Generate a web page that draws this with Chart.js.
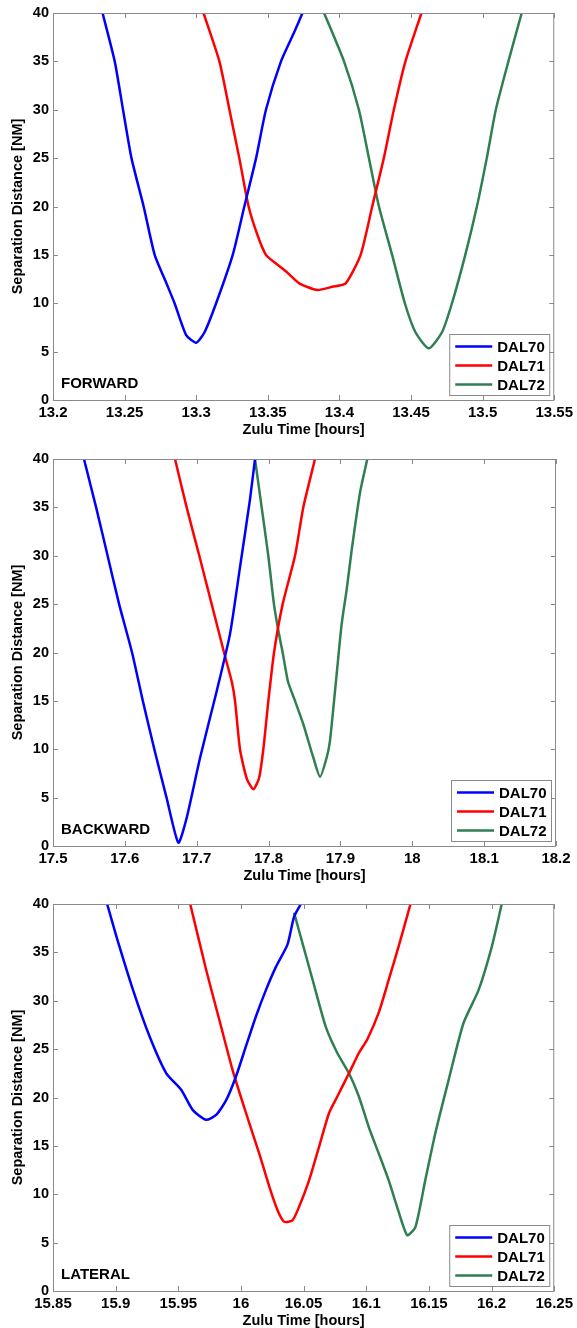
<!DOCTYPE html>
<html>
<head>
<meta charset="utf-8">
<script src="https://cdn.jsdelivr.net/npm/chart.js@4.4.1/dist/chart.umd.min.js"></script>
<style>
  html, body { margin: 0; padding: 0; background: #fff; overflow: hidden; }
  .panel { position: absolute; left: 0; width: 577px; height: 437px; }
</style>
</head>
<body>
<div class="panel" style="top:0px"><canvas id="fwd" width="577" height="437"></canvas></div>
<div class="panel" style="top:446px"><canvas id="bwd" width="577" height="437"></canvas></div>
<div class="panel" style="top:891px"><canvas id="lat" width="577" height="437"></canvas></div>
<script>
// labels
const flightNames = ['DAL70', 'DAL71', 'DAL72'];
const panelNames = ['FORWARD', 'BACKWARD', 'LATERAL'];
const yTicks = [0, 5, 10, 15, 20, 25, 30, 35, 40];

// FORWARD
const fwdXTicks = [13.2, 13.25, 13.3, 13.35, 13.4, 13.45, 13.5, 13.55];
const fwdT70 = [13.2346, 13.2431, 13.2489, 13.2548, 13.2633, 13.271, 13.2791, 13.2849, 13.293, 13.300, 13.3058, 13.3139, 13.3255, 13.3336, 13.3418, 13.3487, 13.3592, 13.3684, 13.3742];
const fwdD70 = [40, 35, 30, 25, 20, 15, 12.1, 10, 6.7, 5.92, 7, 10, 15, 20, 25, 30, 35, 38, 40];
const fwdT71 = [13.3051, 13.3162, 13.3232, 13.3301, 13.3366, 13.3429, 13.3487, 13.3557, 13.3626, 13.3719, 13.3846, 13.395, 13.4044, 13.4148, 13.4229, 13.431, 13.438, 13.4461, 13.4573];
const fwdD71 = [40, 35, 30, 25, 20, 17, 15, 14.1, 13.3, 12.06, 11.37, 11.7, 12.06, 15, 20, 25, 30, 35, 40];
const fwdT72 = [13.3893, 13.4032, 13.4136, 13.4206, 13.4276, 13.4368, 13.4457, 13.4531, 13.4624, 13.4716, 13.4786, 13.4879, 13.496, 13.5029, 13.5092, 13.518, 13.5273];
const fwdD72 = [40, 35, 30, 25, 20, 15, 10, 7, 5.34, 7, 10, 15, 20, 25, 30, 35, 40];

// BACKWARD
const bwdXTicks = [17.5, 17.6, 17.7, 17.8, 17.9, 18, 18.1, 18.2];
const bwdT70 = [17.5431, 17.560, 17.576, 17.592, 17.610, 17.625, 17.641, 17.658, 17.6744, 17.686, 17.7046, 17.7278, 17.7463, 17.7602, 17.7741, 17.7811];
const bwdD70 = [40, 35, 30, 25, 20, 15, 10, 5, 0.34, 2.9, 9.1, 16.0, 21.9, 28.8, 35.8, 40];
const bwdT71 = [17.6698, 17.686, 17.7036, 17.7208, 17.738, 17.7487, 17.7533, 17.7602, 17.7695, 17.7788, 17.7867, 17.7927, 17.7997, 17.8076, 17.8196, 17.8368, 17.8483, 17.8646];
const bwdD71 = [40, 35, 30, 25, 20, 17, 15, 10, 7, 5.87, 7, 10, 15, 20, 25, 30, 35, 40];
const bwdT72 = [17.7811, 17.7904, 17.7996, 17.8075, 17.8135, 17.8196, 17.827, 17.8368, 17.8483, 17.8622, 17.8716, 17.8809, 17.8855, 17.8948, 17.9018, 17.9087, 17.9157, 17.9272, 17.9374];
const bwdD72 = [40, 35, 30, 25, 22.3, 20, 17, 15, 12.6, 9.15, 7.15, 9.15, 10.9, 17.8, 23.0, 26.5, 30.6, 36.5, 40];

// LATERAL
const latXTicks = [15.85, 15.9, 15.95, 16, 16.05, 16.1, 16.15, 16.2, 16.25];
const latT70 = [15.8932, 15.9007, 15.9139, 15.9271, 15.9404, 15.9523, 15.9616, 15.9722, 15.9802, 15.9881, 15.9961, 16.004, 16.012, 16.0199, 16.0279, 16.0371, 16.0424, 16.0478];
const latD70 = [40, 36.6, 31.1, 26.3, 22.5, 20.8, 18.7, 17.7, 18.2, 19.7, 22.2, 25.3, 28.4, 31.1, 33.5, 35.8, 38.7, 40];
const latT71 = [15.9595, 15.9722, 15.9828, 15.9934, 16.004, 16.0146, 16.0226, 16.0292, 16.0345, 16.0411, 16.0464, 16.0544, 16.0623, 16.0703, 16.0769, 16.0862, 16.0941, 16.1008, 16.11, 16.118, 16.126, 16.1353];
const latD71 = [40, 33.2, 28.0, 22.8, 18.4, 14.2, 10.8, 8.35, 7.15, 7.3, 8.7, 11.46, 14.9, 18.4, 20.1, 22.5, 24.6, 26.0, 28.8, 32.2, 35.7, 40];
const latT72 = [16.0424, 16.0571, 16.0677, 16.0769, 16.0862, 16.0941, 16.1021, 16.11, 16.118, 16.1246, 16.1326, 16.1392, 16.1471, 16.1551, 16.1657, 16.1776, 16.1896, 16.2002, 16.2081];
const latD72 = [39.1, 32.2, 27.3, 24.6, 22.5, 20.1, 16.9, 14.2, 11.4, 8.7, 5.77, 6.6, 11.46, 16.3, 21.8, 27.7, 31.1, 35.6, 40];

const lineColors = ['#0000ff', '#ff0000', '#2f7f52'];
const FONT = "'Liberation Sans', Arial, sans-serif";
Chart.defaults.font.family = FONT;
Chart.defaults.color = '#000';

const zip = (ts, ds) => ts.map((t, i) => ({ x: t, y: ds[i] }));

// matlab-ish axes box, inward ticks, panel tag and legend in the corner
const matlabBox = {
  id: 'matlabBox',
  afterDatasetsDraw(chart, args, opts) {
    const { ctx, chartArea: a, scales: { x, y } } = chart;
    ctx.save();
    ctx.strokeStyle = '#8a8a8a';
    ctx.lineWidth = 1;
    ctx.strokeRect(a.left + 0.5, a.top + 0.5, a.right - a.left - 1, a.bottom - a.top);
    ctx.beginPath();
    x.ticks.forEach(t => {
      const px = Math.round(x.getPixelForValue(t.value)) + 0.5;
      ctx.moveTo(px, a.bottom); ctx.lineTo(px, a.bottom - 5);
      ctx.moveTo(px, a.top); ctx.lineTo(px, a.top + 5);
    });
    y.ticks.forEach(t => {
      const py = Math.round(y.getPixelForValue(t.value)) + 0.5;
      ctx.moveTo(a.left, py); ctx.lineTo(a.left + 5, py);
      ctx.moveTo(a.right, py); ctx.lineTo(a.right - 5, py);
    });
    ctx.stroke();

    ctx.fillStyle = '#000';
    ctx.font = 'bold 15px ' + FONT;
    ctx.textBaseline = 'alphabetic';
    ctx.textAlign = 'left';
    ctx.fillText(opts.tag, a.left + 8, a.bottom - 12);

    // legend
    const bw = 100, bh = 61;
    const bx = a.right - 5 - bw, by = a.bottom - 5 - bh;
    ctx.fillStyle = '#fff';
    ctx.fillRect(bx, by, bw, bh);
    ctx.strokeStyle = '#8a8a8a';
    ctx.strokeRect(bx + 0.5, by + 0.5, bw, bh);
    ctx.textBaseline = 'middle';
    chart.data.datasets.forEach((ds, i) => {
      const ry = by + 12.5 + 19 * i;
      ctx.strokeStyle = ds.borderColor;
      ctx.lineWidth = 2.5;
      ctx.beginPath();
      ctx.moveTo(bx + 6, ry); ctx.lineTo(bx + 43, ry);
      ctx.stroke();
      ctx.fillStyle = '#000';
      ctx.fillText(ds.label, bx + 48, ry + 1);
    });
    ctx.restore();
  }
};

function makePanel(id, tag, xTicks, series) {
  const ctx = document.getElementById(id).getContext('2d');
  return new Chart(ctx, {
    type: 'line',
    data: {
      datasets: series.map((s, i) => ({
        label: flightNames[i],
        data: zip(s[0], s[1]),
        borderColor: lineColors[i],
        backgroundColor: lineColors[i],
        borderWidth: 2.5,
        pointRadius: 0,
        tension: 0.2,
        fill: false,
      })),
    },
    options: {
      responsive: false,
      animation: false,
      devicePixelRatio: 1,
      layout: { padding: { top: 13, right: 21, left: 0, bottom: 0 } },
      plugins: {
        legend: { display: false },
        tooltip: { enabled: false },
        matlabBox: { tag: tag },
      },
      scales: {
        x: {
          type: 'linear',
          min: xTicks[0],
          max: xTicks[xTicks.length - 1],
          afterBuildTicks: sc => { sc.ticks = xTicks.map(v => ({ value: v })); },
          afterFit: sc => { sc.height = 37; },
          grid: { display: false, drawTicks: false },
          border: { display: false },
          ticks: {
            autoSkip: false, maxRotation: 0, padding: 4,
            font: { size: 15, weight: 'bold' },
            callback: v => String(v),
          },
          title: {
            display: true, text: 'Zulu Time [hours]',
            font: { size: 14.5, weight: 'bold', lineHeight: 1 },
            padding: { top: 0, bottom: 0 },
          },
        },
        y: {
          type: 'linear',
          min: 0, max: 40,
          afterBuildTicks: sc => { sc.ticks = yTicks.map(v => ({ value: v })); },
          afterFit: sc => { sc.width = 53; },
          grid: { display: false, drawTicks: false },
          border: { display: false },
          ticks: {
            autoSkip: false, padding: 4,
            font: { size: 14.5, weight: 'bold' },
            callback: v => String(v),
          },
          title: {
            display: true, text: 'Separation Distance [NM]',
            font: { size: 14.5, weight: 'bold', lineHeight: 1 },
            padding: { top: 11, bottom: 0 },
          },
        },
      },
    },
    plugins: [matlabBox],
  });
}

makePanel('fwd', panelNames[0], fwdXTicks, [[fwdT70, fwdD70], [fwdT71, fwdD71], [fwdT72, fwdD72]]);
makePanel('bwd', panelNames[1], bwdXTicks, [[bwdT70, bwdD70], [bwdT71, bwdD71], [bwdT72, bwdD72]]);
makePanel('lat', panelNames[2], latXTicks, [[latT70, latD70], [latT71, latD71], [latT72, latD72]]);
</script>
</body>
</html>
